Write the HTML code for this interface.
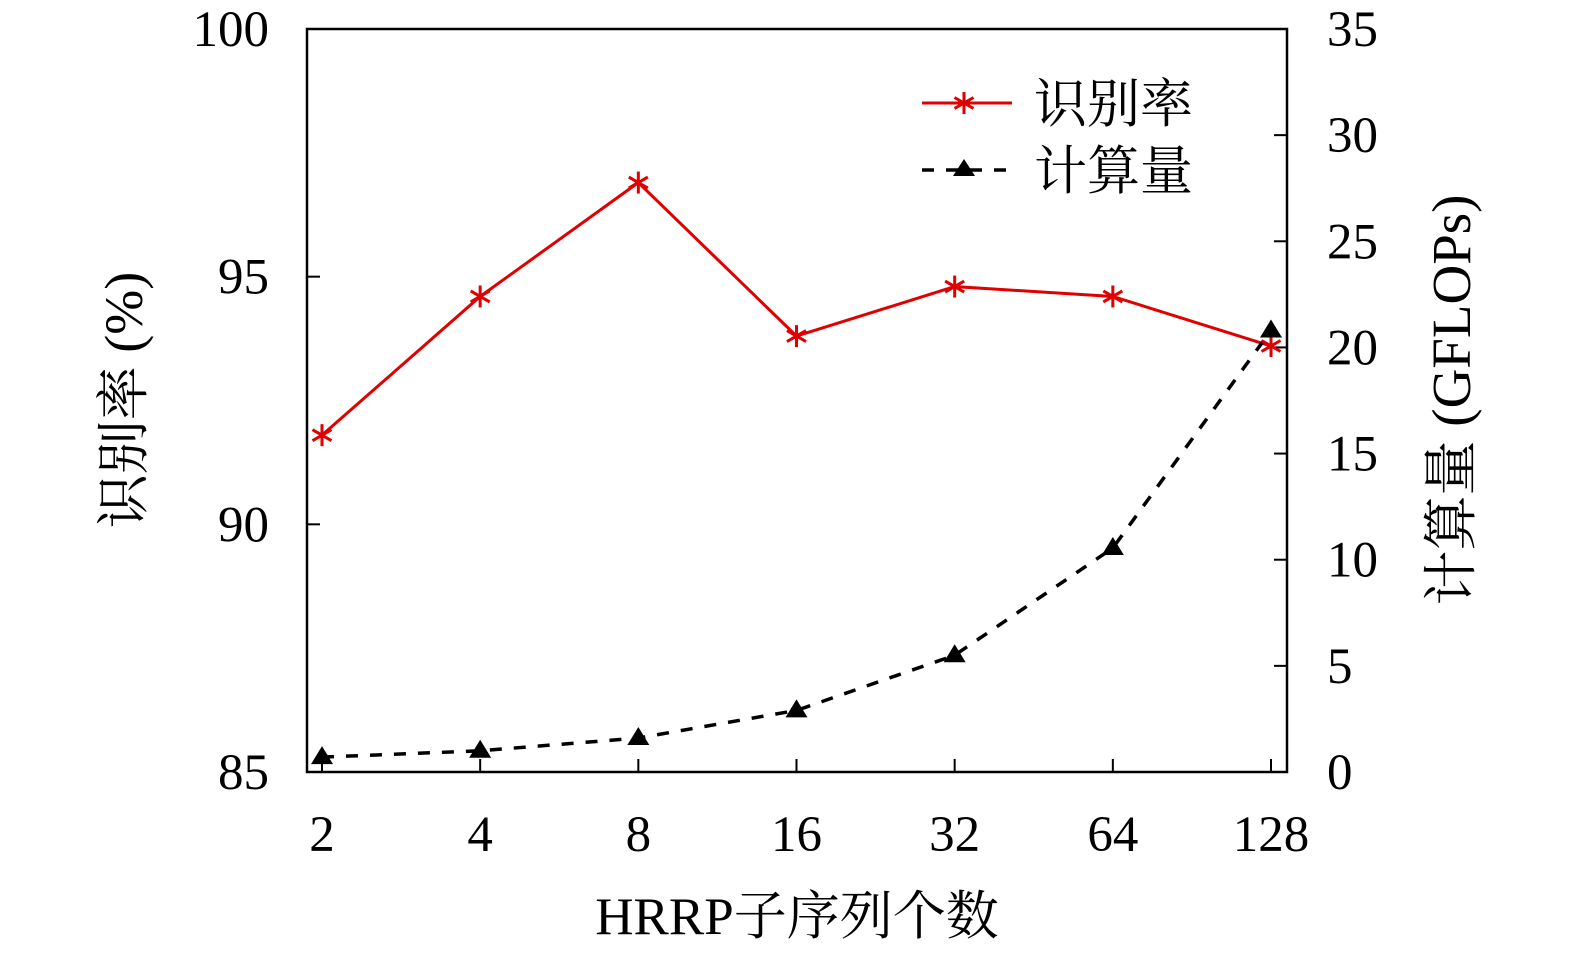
<!DOCTYPE html>
<html><head><meta charset="utf-8"><style>
html,body{margin:0;padding:0;background:#fff;}
svg text{font-family:"Liberation Serif","Noto Serif CJK SC",serif;fill:#000;}
</style></head><body>
<svg id="chart" width="1575" height="954" xmlns="http://www.w3.org/2000/svg">
<g id="axes"></g>
<g id="series"></g>
<g id="legend">
  <line x1="922" y1="103" x2="1012" y2="103" stroke="#e00000" stroke-width="3"/>
  <g id="lgstar"></g>
  <text x="1034" y="122" font-size="53">识别率</text>
  <line x1="922" y1="170" x2="1012" y2="170" stroke="#000" stroke-width="3.5" stroke-dasharray="12,12"/>
  <polygon points="964,159 953,176 975,176" fill="#000"/>
  <text x="1034" y="189" font-size="53">计算量</text>
</g>
<text x="797" y="934" font-size="53" text-anchor="middle">HRRP子序列个数</text>
<text transform="translate(142,400) rotate(-90)" font-size="54" text-anchor="middle">识别率 (%)</text>
<text transform="translate(1470,400) rotate(-90)" font-size="55" text-anchor="middle">计算量 (GFLOPs)</text>
</svg>
<script>
const categories = ["2","4","8","16","32","64","128"];
const accuracy = [91.8, 94.6, 96.9, 93.8, 94.8, 94.6, 93.6];
const flops = [0.7, 1.0, 1.6, 2.9, 5.5, 10.55, 20.8];
const leftTicks = [85, 90, 95, 100];
const rightTicks = [0, 5, 10, 15, 20, 25, 30, 35];

const L=307,R=1287,T=29,B=772;
const xs = i => 322 + i*(1271-322)/(categories.length-1);
const yl = v => B - (v-85)/15*(B-T);
const yr = v => B - v/35*(B-T);
const NS="http://www.w3.org/2000/svg";
function mk(tag, attrs, parent){const e=document.createElementNS(NS,tag);for(const k in attrs)e.setAttribute(k,attrs[k]);parent.appendChild(e);return e;}
const axes=document.getElementById('axes'), ser=document.getElementById('series');
const frame=mk('rect',{x:L,y:T,width:R-L,height:B-T,fill:'none',stroke:'#000','stroke-width':2.5},axes);


leftTicks.forEach(v=>{
  const y=yl(v);
  mk('line',{x1:L,y1:y,x2:L+13,y2:y,stroke:'#000','stroke-width':2},axes);
  const t=mk('text',{x:L-38,y:y+17,'font-size':51,'text-anchor':'end'},axes);
  t.textContent=v;
  
  
});
rightTicks.forEach(v=>{
  const y=yr(v);
  mk('line',{x1:R,y1:y,x2:R-13,y2:y,stroke:'#000','stroke-width':2},axes);
  const t=mk('text',{x:R+40,y:y+17,'font-size':51},axes);
  t.textContent=v;
  
  
});
categories.forEach((c,i)=>{
  const x=xs(i);
  mk('line',{x1:x,y1:B,x2:x,y2:B-13,stroke:'#000','stroke-width':2},axes);
  const t=mk('text',{x:x,y:851,'font-size':51,'text-anchor':'middle'},axes);
  t.textContent=c;
  
  
});
function star(x,y,parent){
  const g=mk('g',{stroke:'#e00000','stroke-width':3},parent);
  const r=11;
  [90,30,150].forEach(a=>{const rad=a*Math.PI/180;mk('line',{x1:x-r*Math.cos(rad),y1:y-r*Math.sin(rad),x2:x+r*Math.cos(rad),y2:y+r*Math.sin(rad)},g);});
  return g;
}
const redLine=mk('polyline',{points:accuracy.map((v,i)=>xs(i)+','+yl(v)).join(' '),fill:'none',stroke:'#e00000','stroke-width':3},ser);


const blackLine=mk('polyline',{points:flops.map((v,i)=>xs(i)+','+yr(v)).join(' '),fill:'none',stroke:'#000','stroke-width':3.5,'stroke-dasharray':'12,12'},ser);


accuracy.forEach((v,i)=>{
  const g=star(xs(i),yl(v),ser);
  
  
});
flops.forEach((v,i)=>{
  const x=xs(i),y=yr(v);
  const p=mk('polygon',{points:`${x},${y-11} ${x-11},${y+7} ${x+11},${y+7}`,fill:'#000'},ser);
  
  
});
star(964,103,document.getElementById('lgstar'));
</script>
</body></html>
